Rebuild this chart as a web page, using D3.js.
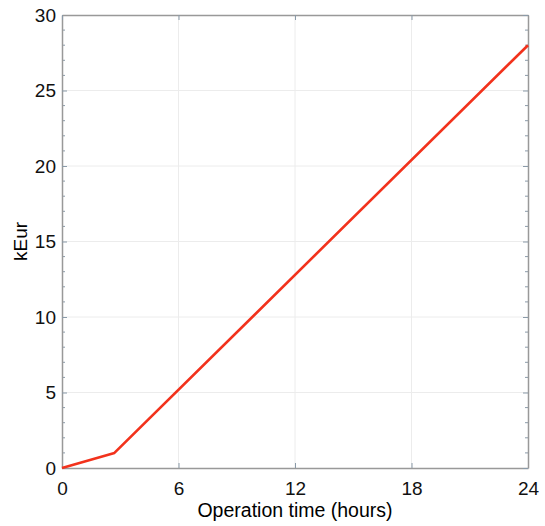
<!DOCTYPE html>
<html lang="en">
<head>
	<meta charset="UTF-8">
	<title>Operation cost</title>
	<script src="https://cdn.jsdelivr.net/npm/d3@7"></script>
	<style>
		body{ margin:0; background:#fff; }
		svg{ display:block; font-family:"Liberation Sans", Arial, sans-serif; }
		.grid line{ stroke:#ececec; stroke-width:1; }
		.axis text{ font-size:19px; fill:#111; font-family:"Liberation Sans", Arial, sans-serif; }
	</style>
</head>
<body>
	<svg width="545" height="526"></svg>
	<script>
		// data
		var hours = [0, 2.7, 24];
		var cost = [0, 1.0, 28];
		var xTicks = [0, 6, 12, 18, 24];
		var yTicks = [0, 5, 10, 15, 20, 25, 30];

		var svg = d3.select("svg");
		var m = {left:62, top:15, right:17, bottom:58};
		var w = 545 - m.left - m.right,
			h = 526 - m.top - m.bottom;

		var x = d3.scaleLinear().domain([0, 24]).range([0, w]);
		var y = d3.scaleLinear().domain([0, 30]).range([h, 0]);

		var g = svg.append("g").attr("transform", "translate(" + m.left + "," + m.top + ")");

		// faint grid
		var grid = g.append("g").attr("class", "grid");
		grid.selectAll(".vx").data(xTicks.slice(1, -1)).enter().append("line")
			.attr("x1", d => x(d)).attr("x2", d => x(d))
			.attr("y1", 0).attr("y2", h);
		grid.selectAll(".hy").data(yTicks.slice(1, -1)).enter().append("line")
			.attr("y1", d => y(d)).attr("y2", d => y(d))
			.attr("x1", 0).attr("x2", w);

		// minor ticks on left and right
		var minor = d3.range(0, 31).filter(d => d % 5 != 0);
		var mt = g.append("g").attr("stroke", "#8a9aa8").attr("stroke-width", 1);
		mt.selectAll(".ml").data(minor).enter().append("line")
			.attr("x1", 0).attr("x2", 3).attr("y1", d => y(d)).attr("y2", d => y(d));
		mt.selectAll(".mr").data(minor).enter().append("line")
			.attr("x1", w).attr("x2", w - 3).attr("y1", d => y(d)).attr("y2", d => y(d));

		// axes
		var xAxis = g.append("g").attr("class", "axis")
			.attr("transform", "translate(0," + h + ")")
			.call(d3.axisBottom(x).tickValues(xTicks).tickSizeInner(-5).tickSizeOuter(0).tickPadding(14));
		var yAxis = g.append("g").attr("class", "axis")
			.call(d3.axisLeft(y).tickValues(yTicks).tickSizeInner(-5).tickSizeOuter(0).tickPadding(6));
		g.append("g").attr("transform", "translate(0,0)")
			.call(d3.axisTop(x).tickValues(xTicks).tickSizeInner(-5).tickSizeOuter(0).tickFormat(""));
		g.append("g").attr("transform", "translate(" + w + ",0)")
			.call(d3.axisRight(y).tickValues(yTicks).tickSizeInner(-5).tickSizeOuter(0).tickFormat(""));
		g.selectAll(".domain").attr("stroke", "#999").attr("stroke-width", 1.5);
		g.selectAll(".tick line").attr("stroke", "#8a9aa8");

		// line
		var line = d3.line().x((d, i) => x(hours[i])).y(d => y(d));
		g.append("path")
			.datum(cost)
			.attr("d", line)
			.attr("fill", "none")
			.attr("stroke", "#f2321c")
			.attr("stroke-width", 2.6)
			.attr("stroke-linejoin", "round");

		// labels
		svg.append("text")
			.attr("x", m.left + w / 2).attr("y", 517)
			.attr("text-anchor", "middle")
			.style("font-size", "19.5px")
			.text("Operation time (hours)");
		svg.append("text")
			.attr("transform", "translate(27," + (m.top + h / 2) + ") rotate(-90)")
			.attr("text-anchor", "middle")
			.style("font-size", "19px")
			.text("kEur");
	</script>
</body>
</html>
